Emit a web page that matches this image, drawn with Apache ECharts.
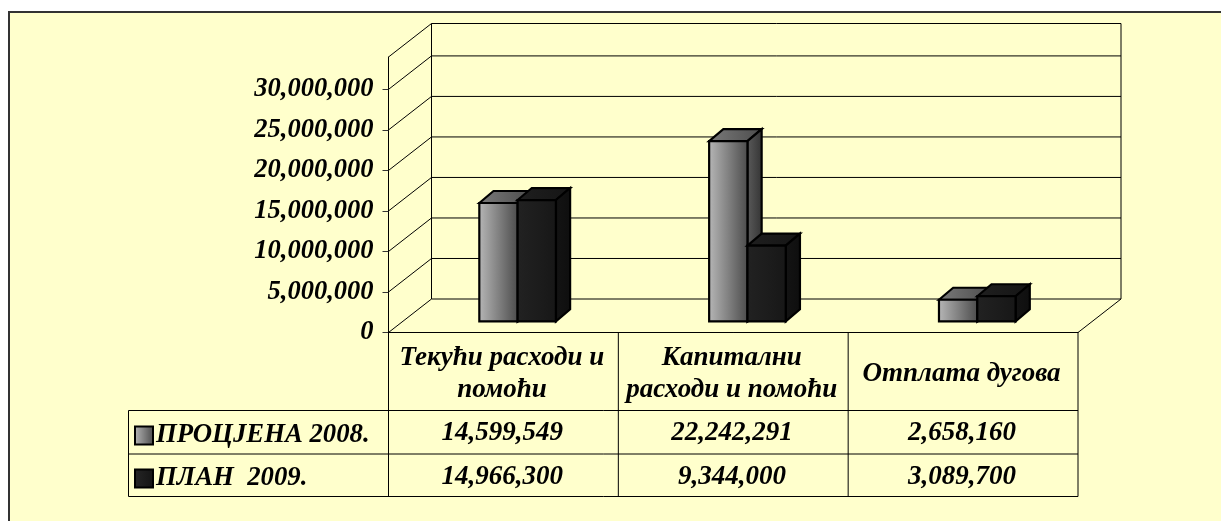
<!DOCTYPE html>
<html><head><meta charset="utf-8">
<style>html,body{margin:0;padding:0;background:#fff}#c{width:1221px;height:521px}</style>
<script src="https://cdn.jsdelivr.net/npm/echarts@6/dist/echarts.min.js"></script>
</head><body><div id="c"></div>
<script>
const categories = ['Текући расходи и\nпомоћи', 'Капитални\nрасходи и помоћи', 'Отплата дугова'];
const seriesNames = ['ПРОЦЈЕНА 2008.', 'ПЛАН  2009.'];
const estimate2008 = [14599549, 22242291, 2658160];
const plan2009 = [14966300, 9344000, 3089700];
const yTicks = [0, 5000000, 10000000, 15000000, 20000000, 25000000, 30000000];
const yMax = 34000000;

const serif = 'Liberation Serif';
const fontBI = {fontFamily: serif, fontStyle: 'italic', fontWeight: 'bold', color: '#000'};
const fmt = v => Number(v).toLocaleString('en-US');
const grad = (a, b) => ({type: 'linear', x: 0, y: 0, x2: 1, y2: 0, colorStops: [{offset: 0, color: a}, {offset: 1, color: b}]});

const DEPTH_X = 43, DEPTH_Y = 33.5;   // projection of the 3D floor
const BAR_DX = 14.2, BAR_DY = 11.2, BAR_DEPTH_X = 14.2, BAR_DEPTH_Y = 12;
const styles = [
  {front: grad('#b8b8b8', '#4a4a4a'), top: grad('#7a7a7a', '#4c4c4c'), side: grad('#5c5c5c', '#333333')},
  {front: grad('#222222', '#171717'), top: grad('#1f1f1f', '#151515'), side: grad('#141414', '#0e0e0e')}
];

function barRender(si) {
  return function (params, api) {
    const cat = api.value(0), val = api.value(1);
    const band = api.size([1, 0])[0], w = band / 6;
    const p = api.coord([cat, val]), b = api.coord([cat, 0]);
    const xl = p[0] + BAR_DX + (si - 1) * w, xr = xl + w;
    const yt = p[1] - BAR_DY, yb = b[1] - BAR_DY;
    const s = styles[si], line = {stroke: '#000', lineWidth: 2.2, lineJoin: 'miter'};
    const dx = BAR_DEPTH_X, dy = BAR_DEPTH_Y;
    return {type: 'group', children: [
      {type: 'polygon', shape: {points: [[xl, yt], [xl + dx, yt - dy], [xr + dx, yt - dy], [xr, yt]]}, style: {fill: s.top, ...line}},
      {type: 'polygon', shape: {points: [[xr, yt], [xr + dx, yt - dy], [xr + dx, yb - dy], [xr, yb]]}, style: {fill: s.side, ...line}},
      {type: 'rect', shape: {x: xl, y: yt, width: w, height: yb - yt}, style: {fill: s.front, ...line}}
    ]};
  };
}

function wallRender(params, api) {
  const v = api.value(0);
  const a = api.coord([0, v]), band = api.size([1, 0])[0];
  const xf = a[0] - band / 2, y = a[1], xr = xf + band * categories.length;
  const st = {stroke: '#000', lineWidth: 1, fill: null};
  const kids = [
    {type: 'polyline', shape: {points: [[xf, y], [xf + DEPTH_X, y - DEPTH_Y], [xr + DEPTH_X, y - DEPTH_Y]]}, style: st}
  ];
  if (v === 0) {
    const t = api.coord([0, yMax])[1];
    kids.push({type: 'line', shape: {x1: xf + DEPTH_X, y1: y - DEPTH_Y, x2: xf + DEPTH_X, y2: t - DEPTH_Y}, style: st});
    kids.push({type: 'polyline', shape: {points: [[xf, y], [xr, y], [xr + DEPTH_X, y - DEPTH_Y], [xr + DEPTH_X, t - DEPTH_Y]]}, style: st});
  }
  return {type: 'group', children: kids};
}

function tableRender(params, api) {
  const cat = api.value(0);
  const c = api.coord([cat, 0]), band = api.size([1, 0])[0];
  const xl = c[0] - band / 2, xr = xl + band, y0 = c[1];
  const r1 = 410.5, r2 = 454, r3 = 496.5;
  const st = {stroke: '#000', lineWidth: 1, fill: null};
  const font = 'italic bold 27px "' + serif + '"';
  const kids = [
    {type: 'line', shape: {x1: xl, y1: y0, x2: xl, y2: r3}, style: st},
    {type: 'text', style: {text: fmt(estimate2008[cat]), x: c[0] - 1.2, y: (r1 + r2) / 2 + 1, align: 'center', verticalAlign: 'middle', font: font, fill: '#000'}},
    {type: 'text', style: {text: fmt(plan2009[cat]), x: c[0] - 1.2, y: (r2 + r3) / 2 + 1.5, align: 'center', verticalAlign: 'middle', font: font, fill: '#000'}}
  ];
  if (cat === categories.length - 1) kids.push({type: 'line', shape: {x1: xr, y1: y0, x2: xr, y2: r3}, style: st});
  if (cat === 0) {
    const xe = xl + band * categories.length, xs = 128.5;
    [r1, r2, r3].forEach(r => kids.push({type: 'line', shape: {x1: xs, y1: r, x2: xe, y2: r}, style: st}));
    kids.push({type: 'line', shape: {x1: xs, y1: r1, x2: xs, y2: r3}, style: st});
  }
  return {type: 'group', children: kids};
}

const chart = echarts.init(document.getElementById('c'), null, {renderer: 'canvas'});
chart.setOption({
  animation: false,
  backgroundColor: '#ffffff',
  graphic: [{type: 'rect', z: -100, silent: true, shape: {x: 9, y: 12, width: 1300, height: 600}, style: {fill: '#ffffcc', stroke: '#333', lineWidth: 2}}],
  grid: {left: 388.5, top: 57, width: 689.5, height: 275.5, containLabel: false},
  legend: {
    orient: 'vertical', left: 129, top: 415.5, itemWidth: 18, itemHeight: 18, itemGap: 13, icon: 'rect', selectedMode: false,
    textStyle: {...fontBI, fontSize: 26.75, lineHeight: 26, padding: [4, 0, 0, -2]},
    data: [
      {name: seriesNames[0], itemStyle: {color: grad('#b8b8b8', '#4a4a4a'), borderColor: '#000', borderWidth: 2}},
      {name: seriesNames[1], itemStyle: {color: grad('#262626', '#141414'), borderColor: '#000', borderWidth: 2}}
    ]
  },
  xAxis: {
    type: 'category', data: categories,
    axisLine: {show: true, lineStyle: {color: '#000', width: 1}}, axisTick: {show: false},
    axisLabel: {interval: 0, ...fontBI, fontSize: 27, lineHeight: 32, margin: 41.5, verticalAlign: 'middle', align: 'center', padding: [0, 3, 0, 0]}
  },
  yAxis: {
    type: 'value', min: 0, max: yMax, splitLine: {show: false},
    axisLine: {show: true, lineStyle: {color: '#000', width: 1}},
    axisTick: {show: true, length: 6, customValues: yTicks, lineStyle: {color: '#333', width: 1}},
    axisLabel: {...fontBI, fontSize: 26.5, margin: 15, customValues: yTicks, formatter: v => fmt(v), padding: [5, 0, 0, 0]}
  },
  series: [
    {type: 'custom', name: 'walls', z: 1, silent: true, clip: false, renderItem: wallRender, encode: {y: 0}, data: yTicks.concat([yMax]).map(v => [v])},
    {type: 'custom', name: 'table', z: 1, silent: true, clip: false, renderItem: tableRender, encode: {x: 0}, data: categories.map((_, i) => [i])},
    {type: 'custom', name: seriesNames[0], z: 3, silent: true, clip: false, renderItem: barRender(0), encode: {x: 0, y: 1}, data: estimate2008.map((v, i) => [i, v])},
    {type: 'custom', name: seriesNames[1], z: 4, silent: true, clip: false, renderItem: barRender(1), encode: {x: 0, y: 1}, data: plan2009.map((v, i) => [i, v])}
  ]
});
</script></body></html>
